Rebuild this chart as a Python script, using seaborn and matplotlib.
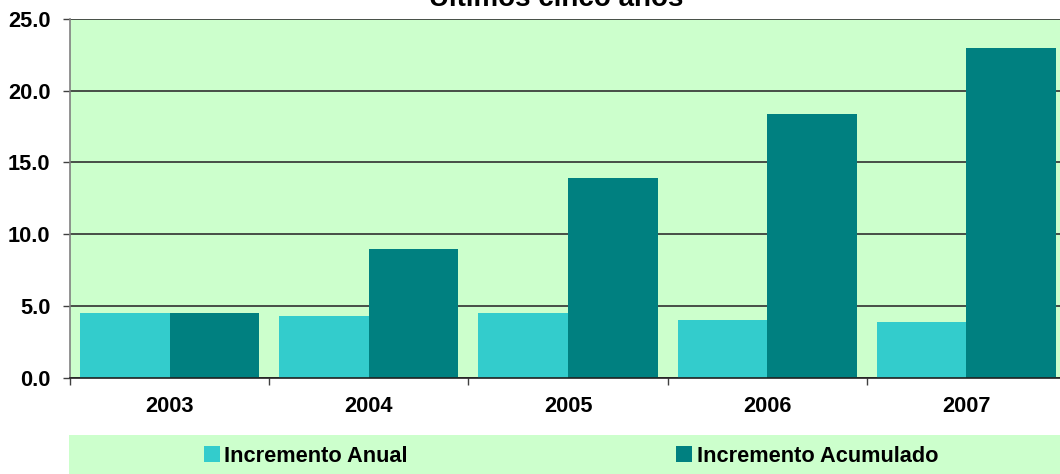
import matplotlib
matplotlib.use("Agg")
import matplotlib.pyplot as plt
import seaborn as sns
import pandas as pd
from matplotlib.patches import Rectangle

years = ["2003", "2004", "2005", "2006", "2007"]
incremento_anual = [4.5, 4.3, 4.5, 4.0, 3.9]
incremento_acumulado = [4.5, 9.0, 13.9, 18.4, 23.0]
series_names = ["Incremento Anual", "Incremento Acumulado"]
yticks = [0.0, 5.0, 10.0, 15.0, 20.0, 25.0]
title = "Últimos cinco años"

df = pd.DataFrame({
    "Año": years * 2,
    "Valor": incremento_anual + incremento_acumulado,
    "Serie": [series_names[0]] * len(years) + [series_names[1]] * len(years),
})

sns.set_theme(style="white")
plt.rcParams["font.family"] = ["Liberation Sans", "DejaVu Sans"]
plt.rcParams["font.weight"] = "bold"
plt.rcParams["text.color"] = "black"
plt.rcParams["xtick.labelcolor"] = "black"
plt.rcParams["ytick.labelcolor"] = "black"

W, H = 1060, 474
FS = 15.7
fig = plt.figure(figsize=(W / 100, H / 100), dpi=100)
fig.patch.set_facecolor("white")

# legend background band
fig.patches.append(Rectangle((69 / W, 0), 1 - 69 / W, (474 - 435) / H,
                             transform=fig.transFigure, facecolor="#CCFFCC",
                             edgecolor="none", zorder=-5))

ax = fig.add_axes([70 / W, 1 - 377.7 / H, 996 / W, (377.7 - 19) / H])
ax.set_facecolor("#CCFFCC")

sns.barplot(data=df, x="Año", y="Valor", hue="Serie",
            palette=["#33CCCC", "#008080"], saturation=1,
            width=0.9, gap=0, linewidth=0, edgecolor="none", ax=ax, zorder=3)

ax.set_xlim(-0.5, 4.5)
ax.set_ylim(0, 25)
ax.set_yticks(yticks)
ax.set_yticklabels([f"{v:.1f}" for v in yticks], fontsize=FS, fontweight="bold", color="black")
ax.set_xticks(range(len(years)))
ax.set_xticklabels(years, fontsize=FS, fontweight="bold", color="black")
ax.set_xticks([-0.5, 0.5, 1.5, 2.5, 3.5, 4.5], minor=True)
ax.tick_params(axis="x", which="major", length=0, pad=13)
ax.tick_params(axis="x", which="minor", length=4.7, width=1, color="#404040", bottom=True)
ax.tick_params(axis="y", which="major", length=5, width=1, color="#404040", pad=9, left=True)
ax.set_xlabel("")
ax.set_ylabel("")
ax.grid(axis="y", color="#303030", linewidth=1.2, zorder=1)
ax.set_axisbelow(True)

for s in ["top", "right"]:
    ax.spines[s].set_visible(False)
ax.spines["left"].set_color("#808080")
ax.spines["left"].set_linewidth(1.2)
ax.spines["bottom"].set_color("#202020")
ax.spines["bottom"].set_linewidth(1.2)
ax.spines["bottom"].set_zorder(4)

sns.move_legend(ax, "center", bbox_to_anchor=(571 / W, 1 - 456 / H),
                bbox_transform=fig.transFigure, ncol=2, frameon=False,
                title=None, prop=dict(weight="bold", size=FS),
                handlelength=0.75, handleheight=0.75, handletextpad=0.2,
                columnspacing=12.3, borderpad=0, labelcolor="black")

fig.text(556 / W, 1 - 6 / H, title, ha="center", va="baseline",
         fontsize=20, fontweight="bold", color="black")

fig.savefig("out.png", dpi=100, facecolor="white")
